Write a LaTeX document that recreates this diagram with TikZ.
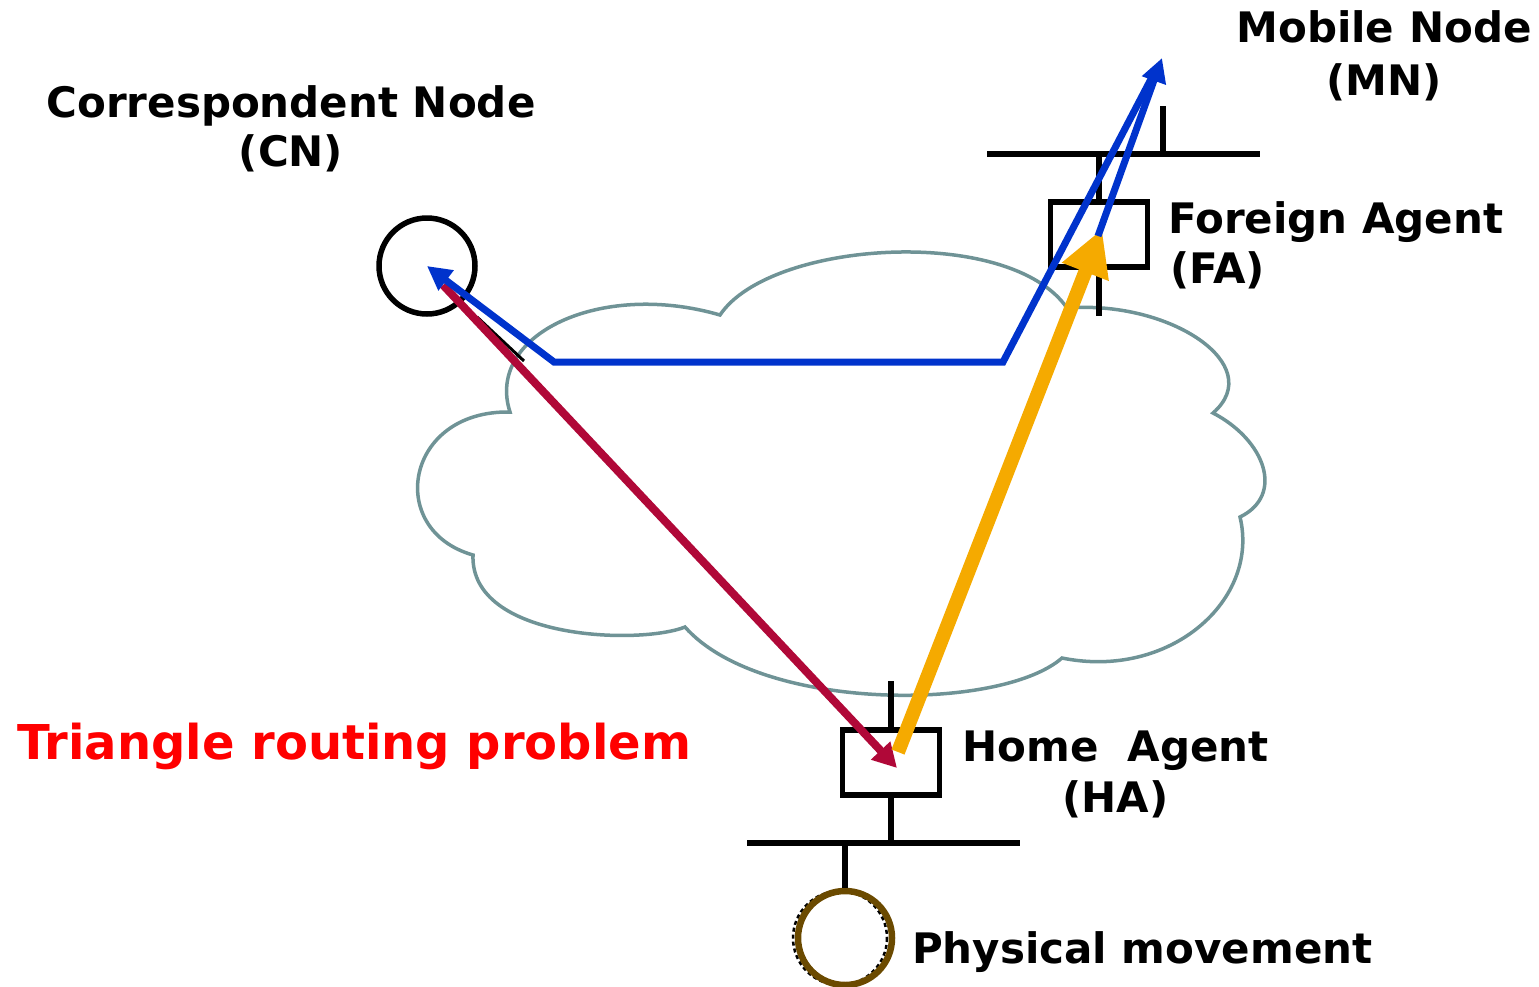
\documentclass[tikz,border=0pt]{standalone}
\usepackage{fontspec}
\setmainfont{DejaVu Sans}
\usetikzlibrary{arrows.meta}

\definecolor{cloudline}{RGB}{111,147,150}
\definecolor{pathblue}{RGB}{0,51,204}
\definecolor{pathred}{RGB}{176,8,56}
\definecolor{tunnel}{RGB}{245,170,0}
\definecolor{movebrown}{RGB}{107,74,0}
\definecolor{titlered}{RGB}{255,0,0}

\begin{document}
\begin{tikzpicture}[x=1pt,y=-1pt,
  txt/.style={font=\fontsize{42}{50}\selectfont\bfseries, inner sep=0pt},
  bigtxt/.style={font=\fontsize{48}{56}\selectfont\bfseries, inner sep=0pt, text=titlered},
  wire/.style={line width=6pt},
  agent/.style={draw, line width=5.5pt, minimum width=97pt, minimum height=65pt, inner sep=0pt},
  host/.style={circle, draw, line width=5.5pt, minimum size=96pt, inner sep=0pt},
  cloudedge/.style={draw=cloudline, line width=3.5pt, line join=miter},
  bluepath/.style={draw=pathblue, line width=7pt, -{Triangle[length=24pt,width=24pt]}},
  redpath/.style={draw=pathred, line width=8pt, -{Triangle[length=24pt,width=25pt]}},
  tunnelpath/.style={draw=tunnel, line width=14pt, -{Triangle[length=46pt,width=47pt]}}
]
\useasboundingbox (0,0) rectangle (1539,986);

% the internet cloud
\draw[cloudedge] (720,315) .. controls (770,240) and (1010,225) .. (1067,308)
  .. controls (1170,300) and (1268,365) .. (1213,413)
  .. controls (1265,440) and (1285,495) .. (1240,517)
  .. controls (1260,600) and (1170,680) .. (1062,658)
  .. controls (1000,712) and (760,712) .. (685,627)
  .. controls (640,645) and (470,640) .. (473,555)
  .. controls (385,530) and (405,410) .. (510,412)
  .. controls (485,335) and (600,280) .. cycle;

% hosts and agents
\node[host] (cn) at (427,266) {};
\node[agent] (fa) at (1099,234.5) {};
\node[agent] (ha) at (891,762.5) {};
\draw[line width=2.5pt, dash pattern=on 4pt off 3pt] (840,938) circle[radius=47];
\node[host, draw=movebrown, line width=6.5pt, minimum size=94pt] (pm) at (845,938) {};

% foreign network
\coordinate (faBusW) at (987,154);
\coordinate (faBusE) at (1260,154);
\coordinate (mnDrop) at (1162.5,154);
\draw[wire] (faBusW) -- (faBusE);
\draw[wire] (fa.north) -- (fa.north |- faBusW);
\draw[wire] (fa.south) -- ++(0,46);
\draw[wire] (mnDrop) -- ++(0,-48);

% home network
\coordinate (haBusW) at (747,843);
\coordinate (haBusE) at (1020,843);
\draw[wire] (haBusW) -- (haBusE);
\draw[wire] (ha.north) -- ++(0,-46);
\draw[wire] (ha.south) -- (ha.south |- haBusW);
\draw[wire] (pm.north) -- (pm.north |- haBusW);

% packet paths
\coordinate (mn) at (1162,58);
\coordinate (bendR) at (1003,362);
\coordinate (bendL) at (554,362);
\coordinate (redStart) at (443,285);
\coordinate (haIn) at (897,768);
\coordinate (haOut) at (898,752);
\coordinate (faIn) at (1102,229);
\coordinate (faOut) at (1098,236);
\coordinate (edgeA) at (477,317);
\coordinate (edgeB) at (524,361);

\draw[line width=3pt] (edgeA) -- (edgeB);
\draw[redpath] (redStart) -- (haIn);
\draw[tunnelpath] (haOut) -- (faIn);
\draw[bluepath] (faOut) -- (mn);
\draw[bluepath, shorten <=10pt] (mn) -- (bendR) -- (bendL) -- (cn.center);

% labels
\node[txt, anchor=base] (cnName) at (291,117) {Correspondent Node};
\node[txt, anchor=base] (cnAbbr) at (291,166) {(CN)};
\node[txt, anchor=base] (mnName) at (1384,42) {Mobile Node};
\node[txt, anchor=base] (mnAbbr) at (1384,95) {(MN)};
\node[txt, anchor=base west] (faName) at (1168,233) {Foreign Agent};
\node[txt, anchor=base west] (faAbbr) at (1170,283) {(FA)};
\node[txt, anchor=base] (haName) at (1115.5,761) {Home\ \ Agent};
\node[txt, anchor=base] (haAbbr) at (1115.5,812) {(HA)};
\node[txt, anchor=base west] (pmName) at (912,963) {Physical movement};
\node[bigtxt, anchor=base west] (problem) at (17,759) {Triangle routing problem};
\end{tikzpicture}
\end{document}
